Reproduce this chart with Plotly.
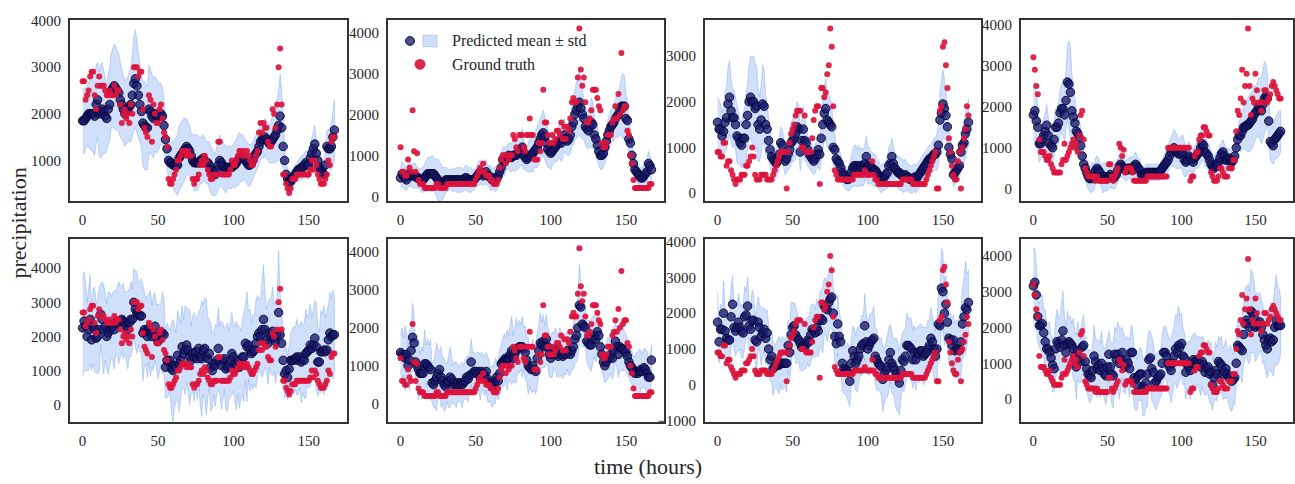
import numpy as np
import plotly.graph_objects as go

hours = list(range(168))

# ---------------- ground truth (one per column) ----------------
truth_a = [2700, 2700, 2300, 2400, 2500, 2800, 2900, 2900, 2400, 2100,
           2600, 2800, 2600, 2600, 2600, 2500, 2400, 2400, 2500, 2400,
           2400, 2600, 2400, 2500, 2500, 2200, 1800, 2000, 2100, 1900,
           2000, 1800, 2200, 2000, 3000, 3000, 3000, 2800, 2900, 2900,
           2100, 1700, 1600, 1500, 2400, 2300, 1400, 2200, 2000, 1800,
           1800, 2100, 2200, 1900, 1600, 1500, 1300, 600, 500, 500,
           600, 700, 800, 1000, 1000, 1100, 1200, 1200, 1200, 1100,
           1200, 1100, 1100, 600, 500, 600, 600, 700, 900, 1000,
           900, 1100, 1000, 800, 700, 600, 600, 700, 700, 700,
           1400, 1400, 700, 700, 700, 700, 700, 700, 800, 1000,
           900, 900, 1000, 1100, 1200, 1200, 1100, 1200, 1100, 1200,
           1100, 1000, 900, 900, 1000, 1100, 1200, 1600, 1800, 1600,
           1800, 1700, 1700, 1400, 1300, 1300, 2100, 2000, 1700, 2200,
           3000, 3400, 2200, 700, 700, 500, 400, 300, 400, 600,
           600, 600, 700, 700, 700, 700, 700, 700, 700, 700,
           700, 800, 1000, 800, 1000, 900, 700, 600, 500, 500,
           500, 600, 700, 1000, 900, 1400, 1500, 1500]

truth_b = [1200, 600, 600, 500, 500, 900, 700, 600, 2100, 1100,
           600, 1050, 400, 300, 300, 300, 200, 200, 200, 200,
           200, 200, 200, 200, 300, 300, 200, 200, 200, 200,
           200, 300, 300, 300, 300, 300, 300, 300, 300, 300,
           300, 300, 300, 300, 300, 300, 300, 300, 300, 300,
           400, 500, 600, 700, 600, 800, 600, 500, 500, 500,
           400, 400, 300, 300, 300, 400, 700, 900, 1000, 1000,
           800, 1000, 900, 1000, 1000, 1500, 1400, 1200, 1100, 1500,
           1500, 1500, 1200, 1100, 1500, 1500, 1900, 1500, 1500, 900,
           900, 900, 1300, 1100, 1300, 2600, 1800, 1800, 1500, 1300,
           1300, 1500, 1300, 1400, 1600, 1600, 1500, 1800, 1400, 1700,
           1400, 1700, 1600, 1900, 2300, 2400, 2300, 2300, 2900, 4100,
           3100, 2700, 2900, 2300, 1800, 1800, 1900, 2100, 2600, 2600,
           2600, 2400, 2200, 2100, 1300, 1200, 1200, 1300, 1500, 1500,
           1500, 1800, 1900, 2200, 1900, 2500, 2000, 3500, 2100, 2200,
           2200, 1600, 1500, 1000, 800, 400, 200, 200, 200, 200,
           200, 200, 200, 200, 200, 200, 300, 300]

truth_c = [900, 900, 800, 800, 1100, 1100, 600, 700, 700, 500,
           400, 300, 200, 300, 300, 300, 400, 400, 400, 600,
           600, 700, 800, 1000, 800, 400, 300, 300, 300, 400,
           400, 400, 400, 300, 300, 300, 300, 400, 500, 600,
           700, 800, 900, 900, 900, 900, 100, 900, 1100, 1300,
           1400, 1500, 1700, 1800, 1800, 1800, 1000, 1000, 1700, 900,
           900, 900, 900, 1200, 1600, 1800, 1900, 1900, 200, 2300,
           2300, 2100, 2200, 2600, 2800, 3600, 3200, 1900, 500, 400,
           300, 300, 300, 300, 300, 300, 300, 300, 300, 300,
           300, 400, 400, 400, 400, 400, 400, 400, 500, 400,
           400, 400, 400, 700, 400, 300, 300, 200, 200, 200,
           200, 200, 200, 200, 200, 200, 200, 200, 200, 200,
           200, 200, 200, 300, 300, 300, 300, 300, 300, 300,
           200, 200, 200, 200, 200, 200, 200, 200, 200, 300,
           400, 500, 600, 700, 800, 900, 100, 100, 1800, 1900,
           3200, 3300, 2800, 2300, 1200, 900, 600, 400, 300, 300,
           700, 900, 100, 1000, 1200, 1400, 1900, 1700]

truth_d = [3200, 2900, 2500, 2300, 1200, 900, 900, 900, 800, 700,
           700, 800, 600, 500, 400, 400, 400, 400, 400, 600,
           700, 1100, 700, 800, 900, 1000, 1100, 1200, 1000, 1100,
           900, 1300, 1800, 1900, 1200, 500, 400, 300, 300, 300,
           300, 300, 200, 300, 200, 200, 200, 200, 200, 200,
           200, 600, 600, 300, 200, 300, 400, 500, 1100, 1000,
           800, 950, 400, 500, 500, 500, 500, 400, 200, 200,
           200, 200, 200, 200, 200, 200, 200, 300, 300, 300,
           300, 300, 300, 300, 300, 300, 300, 300, 300, 300,
           300, 1000, 1000, 1000, 1000, 1000, 1000, 1000, 1000, 1000,
           1000, 1000, 1000, 1000, 1000, 1000, 200, 300, 300, 800,
           900, 900, 1200, 1300, 1300, 1500, 1500, 1400, 1300, 1300,
           400, 300, 200, 200, 200, 300, 500, 500, 400, 300,
           300, 300, 500, 500, 500, 700, 700, 1400, 1900, 1800,
           2200, 2900, 2100, 2500, 2800, 3900, 2500, 1800, 2200, 2100,
           2800, 2400, 2100, 2100, 1900, 2100, 2400, 2400, 2100, 2200,
           2300, 2500, 2600, 2500, 2400, 2300, 2200, 2200]

# ---------------- model 1 (top row) ----------------
mean_a1 = [1850, 1850, 1900, 1950, 2000, 2000, 2000, 2000, 1950, 2200,
           2300, 2000, 2050, 2100, 2050, 1950, 1900, 2100, 2200, 2500,
           2550, 2600, 2550, 2500, 2450, 2300, 2200, 2100, 2000, 2050,
           2100, 2150, 2200, 2400, 2650, 2750, 2600, 2400, 2200, 2050,
           1800, 1750, 1700, 1700, 2100, 2050, 1950, 1900, 2000, 1950,
           1950, 1950, 2000, 1950, 1750, 1450, 1250, 1000, 950, 950,
           900, 900, 900, 900, 1050, 1100, 1150, 1200, 1250, 1300,
           1250, 1200, 1100, 1000, 950, 950, 950, 950, 1000, 1000,
           1050, 1000, 950, 950, 900, 800, 750, 700, 700, 800,
           900, 1000, 950, 900, 850, 800, 850, 850, 850, 850,
           900, 900, 950, 1000, 1050, 1050, 1050, 1050, 1000, 950,
           900, 900, 950, 1000, 1100, 1150, 1200, 1300, 1400, 1450,
           1450, 1500, 1450, 1400, 1350, 1400, 1450, 1500, 1550, 1650,
           1750, 1950, 1700, 1300, 1000, 700, 600, 550, 550, 600,
           650, 700, 750, 800, 800, 850, 850, 900, 950, 900,
           900, 1050, 1150, 1250, 1350, 1150, 1000, 850, 800, 750,
           700, 900, 1300, 1250, 1250, 1300, 1500, 1650]
std_a1 = [700, 700, 650, 650, 700, 750, 800, 800, 850, 850,
          800, 900, 1000, 1000, 900, 800, 700, 750, 800, 800,
          850, 900, 900, 850, 850, 800, 750, 700, 700, 700,
          700, 750, 800, 900, 1000, 1050, 1000, 900, 800, 750,
          900, 950, 900, 900, 950, 900, 850, 850, 800, 800,
          750, 700, 650, 600, 550, 450, 400, 400, 400, 450,
          500, 550, 600, 650, 700, 700, 700, 700, 650, 600,
          550, 550, 500, 550, 600, 600, 600, 550, 500, 500,
          500, 450, 450, 450, 500, 500, 500, 450, 450, 500,
          550, 550, 500, 500, 500, 500, 450, 450, 450, 450,
          450, 500, 500, 550, 550, 500, 500, 450, 450, 450,
          450, 450, 400, 400, 400, 400, 400, 400, 400, 400,
          400, 400, 400, 400, 400, 450, 500, 550, 600, 650,
          750, 900, 800, 500, 300, 250, 200, 200, 200, 200,
          200, 200, 200, 200, 250, 250, 250, 250, 250, 300,
          300, 300, 350, 350, 400, 300, 250, 250, 250, 250,
          250, 300, 350, 400, 450, 500, 600, 650]

mean_b1 = [450, 550, 500, 450, 400, 500, 550, 500, 500, 500,
           500, 450, 450, 400, 400, 400, 450, 500, 550, 550,
           550, 550, 550, 500, 450, 400, 350, 300, 300, 350,
           400, 400, 400, 400, 400, 400, 400, 400, 400, 400,
           400, 400, 400, 450, 450, 400, 400, 400, 400, 400,
           450, 500, 550, 600, 550, 500, 550, 600, 500, 500,
           450, 400, 450, 400, 450, 500, 600, 700, 900, 850,
           900, 950, 1000, 950, 950, 1000, 1000, 1000, 1050, 1100,
           1150, 1200, 1000, 950, 900, 950, 1000, 1000, 1050, 1100,
           1150, 1200, 1300, 1400, 1500, 1550, 1450, 1300, 1150, 1100,
           1050, 1100, 1150, 1200, 1250, 1300, 1350, 1300, 1400, 1500,
           1400, 1350, 1400, 1500, 1700, 1800, 2000, 2100, 2200, 2300,
           2150, 2000, 1900, 1700, 1650, 1600, 1700, 1800, 1750, 1500,
           1400, 1250, 1100, 1000, 1000, 1050, 1200, 1350, 1500, 1600,
           1700, 1750, 1800, 1900, 1950, 2000, 2100, 2200, 2200, 2200,
           1900, 1850, 1400, 1300, 1000, 800, 650, 600, 550, 500,
           450, 450, 500, 550, 600, 800, 750, 650]
std_b1 = [250, 300, 300, 300, 250, 300, 300, 250, 300, 300,
          300, 250, 250, 250, 300, 300, 350, 350, 400, 400,
          400, 450, 400, 400, 450, 500, 500, 450, 400, 350,
          300, 300, 250, 250, 250, 300, 250, 300, 300, 300,
          300, 300, 250, 300, 300, 300, 300, 300, 250, 250,
          250, 250, 300, 300, 250, 250, 250, 300, 250, 250,
          300, 250, 250, 300, 300, 250, 300, 300, 300, 350,
          300, 300, 300, 350, 350, 350, 400, 350, 400, 400,
          400, 450, 350, 300, 300, 350, 400, 400, 450, 400,
          450, 500, 500, 550, 550, 550, 500, 500, 450, 400,
          400, 350, 350, 350, 400, 400, 400, 450, 450, 400,
          350, 350, 400, 450, 500, 550, 600, 700, 750, 800,
          700, 600, 500, 450, 450, 450, 500, 600, 550, 450,
          400, 400, 350, 350, 350, 350, 400, 400, 400, 400,
          400, 400, 450, 450, 500, 550, 600, 700, 800, 750,
          600, 500, 450, 350, 300, 250, 250, 250, 250, 250,
          250, 250, 300, 300, 300, 300, 250, 250]

mean_c1 = [1550, 1400, 1400, 1250, 1350, 1550, 1650, 1950, 2100, 1800,
           1650, 1650, 1500, 1250, 1200, 1100, 1050, 1200, 1200, 1500,
           1700, 2000, 2100, 2000, 2000, 1850, 1900, 1500, 1400, 1600,
           1950, 1900, 1500, 1400, 1150, 950, 800, 750, 700, 650,
           700, 850, 1100, 1050, 850, 700, 750, 850, 950, 1100,
           1150, 1200, 1300, 1450, 1400, 900, 1150, 1400, 1150, 1100,
           950, 850, 800, 750, 700, 750, 850, 950, 850, 1200,
           1500, 1750, 1850, 1600, 1550, 1500, 1450, 1000, 950, 750,
           700, 650, 550, 450, 400, 350, 300, 300, 350, 450,
           550, 600, 600, 550, 600, 550, 600, 550, 650, 800,
           600, 600, 550, 550, 500, 500, 450, 400, 350, 300,
           350, 350, 400, 450, 600, 650, 800, 650, 550, 500,
           450, 450, 400, 400, 350, 400, 350, 350, 300, 300,
           300, 350, 300, 350, 400, 450, 500, 550, 600, 650,
           700, 750, 750, 800, 850, 850, 900, 1050, 1600, 1750,
           1950, 1850, 1700, 1450, 1000, 850, 750, 400, 450, 500,
           550, 600, 900, 1050, 1100, 1300, 1400, 1550]
std_c1 = [550, 600, 550, 500, 550, 650, 700, 800, 800, 700,
          650, 600, 550, 600, 550, 500, 500, 550, 650, 700,
          700, 800, 900, 950, 1000, 950, 900, 800, 700, 750,
          850, 800, 650, 550, 450, 400, 350, 300, 300, 300,
          300, 350, 350, 350, 300, 300, 300, 350, 400, 450,
          450, 500, 550, 550, 500, 400, 450, 500, 450, 400,
          350, 300, 300, 300, 300, 300, 350, 350, 350, 450,
          550, 600, 650, 600, 600, 550, 500, 400, 350, 300,
          300, 300, 300, 250, 250, 250, 250, 250, 300, 350,
          400, 450, 450, 400, 450, 400, 400, 400, 400, 450,
          400, 400, 350, 350, 350, 350, 300, 300, 300, 300,
          300, 300, 300, 350, 400, 400, 400, 400, 350, 350,
          350, 350, 350, 350, 350, 350, 300, 300, 300, 300,
          300, 300, 300, 300, 300, 300, 300, 300, 300, 300,
          300, 300, 300, 350, 350, 350, 400, 450, 600, 700,
          750, 650, 550, 450, 350, 300, 300, 250, 250, 250,
          250, 300, 350, 400, 450, 500, 500, 500]

mean_d1 = [1800, 1900, 1650, 1500, 1100, 1100, 1200, 1300, 1400, 1550,
           1300, 1100, 1050, 1000, 1200, 1500, 1500, 1600, 1850, 1950,
           1950, 1800, 2150, 2600, 2550, 2350, 1900, 1750, 1600, 1400,
           1350, 1250, 1050, 800, 600, 500, 400, 300, 250, 250,
           300, 250, 450, 500, 450, 400, 300, 250, 300, 250,
           250, 300, 350, 300, 250, 300, 350, 450, 550, 600,
           550, 500, 450, 450, 500, 500, 500, 450, 550, 600,
           550, 500, 450, 350, 350, 350, 400, 400, 400, 400,
           400, 400, 400, 400, 400, 400, 450, 500, 550, 600,
           650, 700, 800, 900, 950, 1000, 950, 900, 850, 850,
           900, 850, 700, 650, 700, 800, 750, 700, 650, 750,
           800, 850, 900, 1000, 1100, 1050, 900, 850, 800, 700,
           600, 550, 500, 550, 600, 650, 750, 850, 900, 800,
           700, 700, 750, 700, 650, 700, 800, 1000, 1200, 1300,
           1300, 1400, 1500, 1500, 1550, 1550, 1600, 1650, 1700, 1800,
           1850, 1900, 2000, 1950, 1900, 2050, 2200, 2250, 2200, 1650,
           1150, 1100, 1050, 1200, 1250, 1300, 1350, 1400]
std_d1 = [650, 700, 650, 550, 450, 400, 400, 400, 450, 500,
          450, 400, 350, 350, 400, 450, 450, 500, 550, 600,
          650, 650, 700, 900, 1050, 1100, 900, 700, 550, 500,
          450, 450, 400, 350, 300, 300, 300, 300, 300, 350,
          350, 300, 300, 300, 300, 250, 300, 350, 350, 300,
          300, 300, 300, 300, 250, 300, 300, 300, 300, 300,
          250, 250, 250, 250, 250, 250, 300, 300, 300, 300,
          250, 250, 250, 200, 200, 200, 200, 200, 200, 200,
          200, 200, 200, 200, 200, 200, 200, 250, 250, 250,
          300, 300, 300, 350, 400, 450, 450, 400, 350, 350,
          400, 450, 400, 350, 350, 350, 350, 300, 300, 300,
          300, 350, 350, 400, 400, 400, 350, 350, 300, 300,
          300, 300, 300, 300, 300, 300, 300, 300, 300, 300,
          300, 250, 250, 250, 250, 250, 250, 300, 300, 350,
          400, 450, 500, 550, 600, 650, 700, 700, 700, 700,
          650, 650, 700, 750, 800, 850, 900, 800, 600, 500,
          450, 450, 450, 500, 500, 550, 550, 500]

# ---------------- model 2 (bottom row) ----------------
mean_a2 = [2250, 2450, 2300, 2000, 2200, 2500, 1900, 2300, 2200, 1950,
           2000, 2200, 2650, 2500, 2200, 2300, 2000, 2100, 2200, 2250,
           2300, 2200, 2400, 2450, 2400, 2450, 2500, 2450, 2400, 2300,
           2200, 2400, 2500, 2500, 3000, 2800, 2700, 2650, 2600, 2600,
           2100, 2200, 2150, 2000, 2250, 2100, 2000, 2100, 2300, 2000,
           1850, 1950, 2050, 2100, 2050, 1100, 1300, 1250, 1300, 1050,
           1000, 1150, 1100, 1450, 1200, 1300, 1700, 1500, 1600, 1750,
           1600, 1400, 1300, 1500, 1400, 1550, 1350, 1650, 1400, 1350,
           1600, 1650, 1400, 1350, 1500, 1100, 1000, 1200, 1150, 1300,
           1650, 1300, 1150, 1300, 1350, 1050, 1100, 1150, 1300, 1500,
           1400, 1200, 1150, 1300, 1100, 1150, 1400, 1400, 1800, 1700,
           1750, 1600, 1500, 1550, 1600, 1800, 2000, 2100, 2000, 2200,
           2500, 2200, 1900, 1800, 2100, 2000, 2150, 1950, 1850, 2050,
           2700, 2050, 1800, 1300, 900, 1000, 800, 1050, 1300, 1300,
           1300, 1350, 1400, 1300, 1400, 1250, 1350, 1300, 1500, 1550,
           1600, 1750, 1650, 1750, 1950, 1700, 1250, 1250, 1550, 1550,
           1600, 1550, 1600, 1900, 2100, 2000, 2050, 2050]
std_a2 = [1400, 1450, 1300, 1000, 1200, 1300, 900, 1100, 1250, 1000,
          1100, 1250, 900, 1100, 1300, 1000, 950, 1200, 1100, 900,
          1000, 1150, 900, 1000, 1200, 1050, 950, 1100, 900, 1000,
          1150, 950, 1100, 900, 1000, 1100, 1200, 900, 1050, 1100,
          1400, 1100, 950, 1200, 1000, 1250, 900, 1100, 1000, 900,
          1100, 1000, 900, 1200, 1000, 900, 1100, 1000, 900, 1300,
          1500, 1200, 1000, 1300, 1400, 1100, 1200, 1000, 1300, 1100,
          1200, 1400, 1000, 1100, 1300, 1000, 1200, 1100, 1400, 1700,
          1300, 1500, 1700, 1200, 1000, 1300, 1100, 900, 1200, 1000,
          1200, 1000, 1300, 1100, 900, 1200, 1300, 1000, 1100, 1200,
          1000, 1100, 1300, 1000, 1200, 1000, 1100, 1300, 1100, 1600,
          1000, 1200, 900, 1100, 1000, 1300, 1200, 1000, 1100, 1400,
          1600, 1100, 900, 1200, 1000, 1100, 1300, 1000, 1200, 1100,
          1800, 1200, 900, 800, 700, 700, 650, 700, 800, 900,
          1000, 900, 1100, 1000, 900, 1200, 1000, 1100, 1300, 1000,
          1100, 1200, 900, 1000, 1100, 1300, 1000, 900, 1200, 1100,
          1300, 1000, 1100, 1000, 1200, 1100, 1300, 1100]

mean_b2 = [1350, 1300, 1250, 1200, 1300, 1000, 1150, 1400, 1750, 1600,
           1100, 1000, 900, 800, 800, 800, 1050, 1050, 1000, 950,
           900, 550, 500, 600, 700, 800, 900, 700, 600, 500,
           450, 550, 600, 700, 650, 500, 550, 500, 550, 500,
           550, 500, 550, 600, 700, 650, 750, 1100, 800, 850,
           850, 800, 850, 700, 850, 800, 750, 850, 650, 550,
           500, 450, 500, 600, 700, 600, 800, 1050, 1100, 1150,
           1200, 1150, 1200, 1300, 1400, 1200, 1300, 1400, 1450, 1500,
           1500, 1500, 1450, 1350, 1150, 1000, 950, 900, 1000, 900,
           850, 1200, 1400, 1600, 1550, 1650, 1500, 1700, 1500, 1300,
           1200, 1300, 1400, 1450, 1300, 1250, 1350, 1300, 1250, 1300,
           1300, 1400, 1350, 1300, 1400, 1500, 1700, 1800, 2000, 2600,
           2550, 2100, 2050, 2000, 1650, 1600, 1550, 1550, 1700, 1800,
           1700, 1900, 1800, 1500, 1300, 1100, 1000, 1100, 1200, 1200,
           1300, 1200, 1400, 1650, 1500, 1300, 1500, 1450, 1450, 1400,
           1350, 1250, 1100, 1000, 950, 850, 800, 850, 800, 850,
           900, 850, 950, 900, 800, 700, 700, 1150]
std_b2 = [450, 700, 500, 850, 600, 500, 800, 600, 900, 700,
          500, 650, 800, 500, 700, 600, 900, 500, 700, 600,
          800, 500, 600, 700, 900, 600, 500, 800, 600, 700,
          600, 500, 700, 800, 600, 500, 550, 600, 500, 450,
          500, 600, 450, 500, 550, 600, 500, 600, 550, 500,
          450, 550, 500, 600, 500, 450, 550, 500, 600, 500,
          450, 550, 500, 600, 450, 500, 600, 500, 650, 700,
          550, 800, 600, 700, 900, 600, 750, 850, 600, 700,
          600, 800, 550, 700, 600, 750, 500, 600, 700, 550,
          600, 700, 650, 800, 600, 700, 550, 650, 500, 600,
          500, 600, 450, 550, 600, 500, 650, 550, 600, 500,
          550, 500, 600, 550, 500, 600, 650, 700, 800, 1100,
          700, 600, 550, 500, 550, 600, 650, 700, 600, 550,
          600, 500, 550, 500, 450, 400, 450, 500, 550, 500,
          500, 550, 600, 500, 550, 600, 650, 550, 600, 500,
          500, 450, 400, 400, 450, 400, 450, 500, 550, 600,
          500, 450, 500, 550, 600, 500, 450, 400]

mean_c2 = [1750, 1200, 1550, 1550, 2000, 1500, 1300, 1250, 1250, 1900,
           2250, 1600, 1500, 1600, 1750, 1600, 1500, 1450, 1900, 1950,
           2200, 1650, 1550, 1800, 1800, 1250, 1200, 1750, 1600, 1350,
           1450, 1550, 1300, 1450, 1000, 700, 800, 450, 500, 550,
           550, 550, 600, 600, 600, 600, 600, 1100, 900, 1400,
           1600, 1650, 1400, 1300, 1250, 1150, 1050, 1100, 1050, 1150,
           1250, 1200, 1400, 1550, 1500, 1450, 1600, 1500, 1800, 1850,
           1800, 2200, 2150, 2100, 2300, 2400, 2450, 2000, 1350, 1150,
           1700, 1350, 1200, 600, 450, 400, 400, 350, 100, 600,
           950, 800, 600, 700, 800, 1000, 1100, 1150, 1650, 1200,
           1000, 1100, 1200, 1250, 1300, 800, 700, 600, 550, 500,
           150, 300, 400, 500, 700, 900, 600, 500, 400, 300,
           200, 50, 400, 700, 650, 800, 1100, 1100, 1050, 1000,
           700, 900, 700, 900, 850, 950, 950, 800, 850, 900,
           1000, 1100, 1300, 1200, 1000, 800, 1000, 1700, 1650, 2700,
           2600, 2000, 2250, 1750, 1300, 1250, 1100, 1250, 950, 1000,
           1000, 950, 1200, 1700, 1900, 2150, 2100, 2300]
std_c2 = [800, 600, 700, 550, 900, 700, 600, 750, 650, 850,
          800, 600, 700, 650, 800, 600, 750, 700, 850, 650,
          800, 700, 600, 850, 750, 600, 900, 700, 650, 800,
          700, 600, 750, 650, 700, 600, 700, 750, 600, 650,
          700, 800, 600, 750, 700, 650, 800, 700, 750, 900,
          700, 650, 800, 700, 600, 750, 650, 700, 600, 700,
          650, 700, 800, 700, 750, 650, 800, 700, 750, 800,
          900, 800, 750, 900, 850, 800, 900, 750, 700, 650,
          800, 700, 650, 800, 700, 650, 750, 800, 700, 650,
          700, 800, 750, 900, 800, 700, 850, 750, 900, 800,
          700, 850, 800, 750, 900, 800, 850, 700, 750, 800,
          900, 800, 750, 850, 900, 800, 850, 750, 900, 1000,
          950, 900, 800, 750, 850, 800, 900, 750, 800, 850,
          800, 750, 850, 700, 800, 750, 700, 800, 750, 700,
          800, 700, 850, 750, 800, 700, 850, 900, 1000, 1100,
          1100, 900, 800, 750, 700, 750, 800, 700, 750, 800,
          800, 900, 950, 1000, 1100, 1300, 1000, 900]

mean_d2 = [3150, 3250, 2900, 2300, 2050, 2050, 2100, 1850, 1600, 1400,
           1400, 1300, 1150, 950, 850, 1400, 1600, 1550, 1450, 1650,
           1900, 1500, 1300, 1550, 1600, 1550, 1500, 1400, 1200, 900,
           1350, 1150, 1050, 1450, 1500, 1050, 850, 700, 650, 600,
           800, 1200, 1050, 850, 950, 800, 1000, 850, 700, 650,
           900, 1250, 900, 700, 650, 1250, 1100, 1250, 1000, 1100,
           1300, 1000, 900, 1100, 1000, 850, 1300, 1300, 600, 550,
           400, 650, 700, 700, 350, 300, 450, 700, 1100, 1150,
           850, 750, 450, 500, 600, 650, 700, 1000, 1300, 1300,
           1200, 1000, 900, 800, 1000, 1200, 1400, 1300, 1500, 1450,
           1550, 1200, 1150, 750, 950, 900, 800, 1000, 1100, 1050,
           1000, 1100, 1000, 900, 1050, 950, 750, 850, 900, 700,
           750, 400, 600, 800, 700, 1050, 1000, 950, 700, 750,
           850, 700, 600, 600, 500, 550, 600, 1000, 1500, 1450,
           1400, 1350, 1800, 2100, 2200, 2100, 2000, 2450, 2400, 2300,
           2000, 2050, 2100, 2150, 2000, 1800, 1650, 1500, 1400, 1650,
           1700, 1600, 1650, 2000, 2200, 2050, 2050, 2050]
std_d2 = [1050, 950, 800, 700, 600, 700, 800, 650, 900, 750,
          700, 850, 600, 750, 650, 800, 900, 700, 850, 1000,
          1100, 800, 700, 900, 650, 750, 600, 850, 700, 900,
          800, 700, 600, 750, 850, 700, 600, 650, 750, 600,
          700, 850, 650, 800, 700, 750, 900, 650, 700, 800,
          750, 650, 700, 850, 900, 750, 800, 900, 1000, 850,
          700, 800, 750, 650, 700, 800, 750, 700, 800, 850,
          700, 650, 750, 700, 800, 750, 700, 900, 800, 750,
          900, 850, 700, 800, 750, 700, 650, 800, 700, 750,
          700, 800, 750, 900, 850, 800, 950, 1000, 1100, 900,
          850, 800, 700, 750, 650, 700, 800, 750, 700, 800,
          700, 650, 750, 800, 700, 750, 650, 700, 750, 800,
          850, 700, 650, 800, 750, 700, 650, 800, 700, 750,
          800, 700, 750, 900, 850, 700, 750, 650, 700, 800,
          800, 900, 850, 1000, 900, 1100, 1000, 1150, 1100, 1000,
          950, 900, 850, 800, 750, 800, 700, 750, 800, 850,
          900, 850, 1000, 1100, 1250, 1100, 1000, 800]

y_ranges = [[125, 4020], [-120, 4316], [-177, 3796], [-300, 4118],
            [-496, 4852], [-475, 4343], [-1030, 4071], [-623, 4453]]
x_range = [-8.35, 175.35]

panels = [
    (truth_a, mean_a1, std_a1), (truth_b, mean_b1, std_b1),
    (truth_c, mean_c1, std_c1), (truth_d, mean_d1, std_d1),
    (truth_a, mean_a2, std_a2), (truth_b, mean_b2, std_b2),
    (truth_c, mean_c2, std_c2), (truth_d, mean_d2, std_d2),
]

W, H = 1295, 484
col_px = [(70, 347), (388, 664), (705, 981), (1021, 1293)]
row_px = [(13, 200), (239, 427)]

FONT = "Liberation Serif, Times New Roman, serif"
BAND_FILL = "rgba(100,149,237,0.30)"
BAND_LINE = "rgba(100,149,237,0.35)"
MEAN_COLOR = "rgba(25,25,112,0.78)"
MEAN_EDGE = "rgba(5,5,50,0.9)"
TRUTH_COLOR = "rgba(220,20,60,0.92)"

fig = go.Figure()
layout = {}
for k, (truth, mean, std) in enumerate(panels):
    r, c = divmod(k, 4)
    suffix = "" if k == 0 else str(k + 1)
    xa, ya = "x" + suffix, "y" + suffix
    m = np.array(mean, dtype=float)
    s = np.array(std, dtype=float)
    up = m + s
    lo = m - s
    fig.add_trace(go.Scatter(
        x=hours + hours[::-1], y=list(up) + list(lo[::-1]),
        mode="lines", fill="toself", fillcolor=BAND_FILL,
        line=dict(color=BAND_LINE, width=1), hoverinfo="skip",
        showlegend=False, xaxis=xa, yaxis=ya))
    fig.add_trace(go.Scatter(
        x=hours, y=mean, mode="markers",
        marker=dict(size=8.5, color=MEAN_COLOR, line=dict(color=MEAN_EDGE, width=1)),
        showlegend=False, xaxis=xa, yaxis=ya, hoverinfo="skip"))
    fig.add_trace(go.Scatter(
        x=hours, y=truth, mode="markers",
        marker=dict(size=6, color=TRUTH_COLOR, line=dict(width=0)),
        showlegend=False, xaxis=xa, yaxis=ya, hoverinfo="skip"))

    x0, x1 = col_px[c]
    y0, y1 = row_px[r]
    common = dict(showline=True, mirror=True, linecolor="#333333", linewidth=2,
                  showgrid=False, zeroline=False, ticks="",
                  tickfont=dict(family=FONT, size=15, color="#262626"),
                  ticklabelstandoff=4)
    layout["xaxis" + suffix] = dict(domain=[x0 / W, x1 / W], anchor=ya,
                                    range=x_range, tickvals=[0, 50, 100, 150],
                                    **common)
    layout["yaxis" + suffix] = dict(domain=[1 - y1 / H, 1 - y0 / H], anchor=xa,
                                    range=y_ranges[k], tick0=0, dtick=1000,
                                    **common)

fig.update_layout(**layout)

def px(x):
    return x / W

def py(y):
    return 1 - y / H

annotations = [
    dict(text="precipitation", x=px(19), y=py(223), xref="paper", yref="paper",
         showarrow=False, textangle=-90, font=dict(family=FONT, size=22, color="#262626"),
         xanchor="center", yanchor="middle"),
    dict(text="time (hours)", x=px(648), y=py(473), xref="paper", yref="paper",
         showarrow=False, font=dict(family=FONT, size=22, color="#262626"),
         xanchor="center", yanchor="middle"),
    dict(text="Predicted mean ± std", x=px(450), y=py(35), xref="paper", yref="paper",
         showarrow=False, font=dict(family=FONT, size=16, color="#262626"),
         xanchor="left", yanchor="middle"),
    dict(text="Ground truth", x=px(450), y=py(59), xref="paper", yref="paper",
         showarrow=False, font=dict(family=FONT, size=16, color="#262626"),
         xanchor="left", yanchor="middle"),
]

shapes = [
    dict(type="circle", xref="paper", yref="paper",
         x0=px(405.5), x1=px(414.5), y0=py(39.5), y1=py(30.5),
         fillcolor=MEAN_COLOR, line=dict(color=MEAN_EDGE, width=1)),
    dict(type="rect", xref="paper", yref="paper",
         x0=px(423), x1=px(437), y0=py(41), y1=py(29),
         fillcolor=BAND_FILL, line=dict(color=BAND_LINE, width=1)),
    dict(type="circle", xref="paper", yref="paper",
         x0=px(414.5), x1=px(425.5), y0=py(64.5), y1=py(53.5),
         fillcolor=TRUTH_COLOR, line=dict(width=0)),
]

fig.update_layout(width=W, height=H, margin=dict(l=0, r=0, t=0, b=0),
                  paper_bgcolor="white", plot_bgcolor="white",
                  showlegend=False, annotations=annotations, shapes=shapes,
                  font=dict(family=FONT))

fig.write_html("out.html")
